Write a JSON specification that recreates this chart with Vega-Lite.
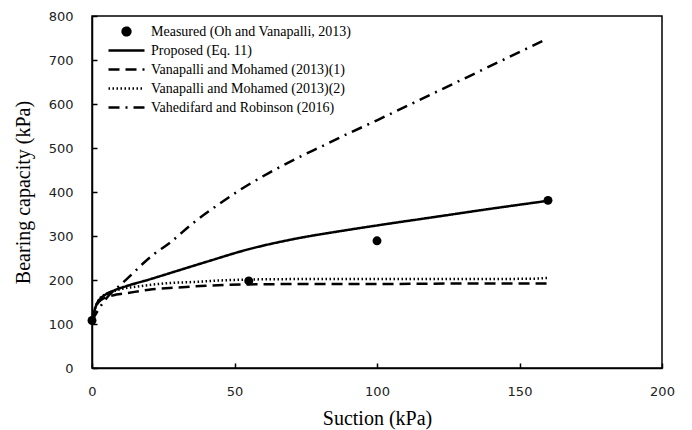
{
  "$schema": "https://vega.github.io/schema/vega-lite/v6.json",
  "width": 570,
  "height": 352,
  "autosize": {"type": "none"},
  "padding": {"left": 92, "top": 16, "right": 30, "bottom": 62},
  "background": "white",
  "config": {
    "view": {"stroke": "black", "strokeWidth": 1.5},
    "axis": {
      "domainColor": "black",
      "domainWidth": 1.5,
      "tickColor": "black",
      "tickWidth": 1.5,
      "tickSize": -5,
      "grid": false,
      "labelFont": "DejaVu Sans",
      "labelFontSize": 13,
      "labelColor": "#222",
      "labelFlush": false,
      "titleFont": "Liberation Serif",
      "titleFontSize": 20,
      "titleFontWeight": "normal",
      "titleColor": "black"
    }
  },
  "datasets": {
    "curves": [
      {"series": "Proposed (Eq. 11)", "suction": 0, "q": 108},
      {"series": "Proposed (Eq. 11)", "suction": 0.5, "q": 121},
      {"series": "Proposed (Eq. 11)", "suction": 1, "q": 133},
      {"series": "Proposed (Eq. 11)", "suction": 2, "q": 150},
      {"series": "Proposed (Eq. 11)", "suction": 3, "q": 158},
      {"series": "Proposed (Eq. 11)", "suction": 5, "q": 168},
      {"series": "Proposed (Eq. 11)", "suction": 8, "q": 177},
      {"series": "Proposed (Eq. 11)", "suction": 12, "q": 186},
      {"series": "Proposed (Eq. 11)", "suction": 20, "q": 201},
      {"series": "Proposed (Eq. 11)", "suction": 30, "q": 221},
      {"series": "Proposed (Eq. 11)", "suction": 40, "q": 241},
      {"series": "Proposed (Eq. 11)", "suction": 55, "q": 270},
      {"series": "Proposed (Eq. 11)", "suction": 70, "q": 292},
      {"series": "Proposed (Eq. 11)", "suction": 90, "q": 314},
      {"series": "Proposed (Eq. 11)", "suction": 100, "q": 324},
      {"series": "Proposed (Eq. 11)", "suction": 120, "q": 343},
      {"series": "Proposed (Eq. 11)", "suction": 140, "q": 362},
      {"series": "Proposed (Eq. 11)", "suction": 160, "q": 380},

      {"series": "Vanapalli and Mohamed (2013)(1)", "suction": 0, "q": 108},
      {"series": "Vanapalli and Mohamed (2013)(1)", "suction": 0.5, "q": 120},
      {"series": "Vanapalli and Mohamed (2013)(1)", "suction": 1, "q": 132},
      {"series": "Vanapalli and Mohamed (2013)(1)", "suction": 2, "q": 147},
      {"series": "Vanapalli and Mohamed (2013)(1)", "suction": 3, "q": 154},
      {"series": "Vanapalli and Mohamed (2013)(1)", "suction": 5, "q": 161},
      {"series": "Vanapalli and Mohamed (2013)(1)", "suction": 8, "q": 166},
      {"series": "Vanapalli and Mohamed (2013)(1)", "suction": 10, "q": 168},
      {"series": "Vanapalli and Mohamed (2013)(1)", "suction": 15, "q": 173},
      {"series": "Vanapalli and Mohamed (2013)(1)", "suction": 20, "q": 178},
      {"series": "Vanapalli and Mohamed (2013)(1)", "suction": 30, "q": 183},
      {"series": "Vanapalli and Mohamed (2013)(1)", "suction": 40, "q": 187},
      {"series": "Vanapalli and Mohamed (2013)(1)", "suction": 55, "q": 190},
      {"series": "Vanapalli and Mohamed (2013)(1)", "suction": 80, "q": 191},
      {"series": "Vanapalli and Mohamed (2013)(1)", "suction": 100, "q": 191},
      {"series": "Vanapalli and Mohamed (2013)(1)", "suction": 130, "q": 192},
      {"series": "Vanapalli and Mohamed (2013)(1)", "suction": 160, "q": 192},

      {"series": "Vanapalli and Mohamed (2013)(2)", "suction": 0, "q": 108},
      {"series": "Vanapalli and Mohamed (2013)(2)", "suction": 0.5, "q": 121},
      {"series": "Vanapalli and Mohamed (2013)(2)", "suction": 1, "q": 135},
      {"series": "Vanapalli and Mohamed (2013)(2)", "suction": 2, "q": 150},
      {"series": "Vanapalli and Mohamed (2013)(2)", "suction": 3, "q": 160},
      {"series": "Vanapalli and Mohamed (2013)(2)", "suction": 5, "q": 168},
      {"series": "Vanapalli and Mohamed (2013)(2)", "suction": 7, "q": 173},
      {"series": "Vanapalli and Mohamed (2013)(2)", "suction": 10, "q": 179},
      {"series": "Vanapalli and Mohamed (2013)(2)", "suction": 17, "q": 186},
      {"series": "Vanapalli and Mohamed (2013)(2)", "suction": 25, "q": 192},
      {"series": "Vanapalli and Mohamed (2013)(2)", "suction": 37, "q": 196},
      {"series": "Vanapalli and Mohamed (2013)(2)", "suction": 45, "q": 199},
      {"series": "Vanapalli and Mohamed (2013)(2)", "suction": 55, "q": 201},
      {"series": "Vanapalli and Mohamed (2013)(2)", "suction": 70, "q": 202},
      {"series": "Vanapalli and Mohamed (2013)(2)", "suction": 100, "q": 202},
      {"series": "Vanapalli and Mohamed (2013)(2)", "suction": 130, "q": 202},
      {"series": "Vanapalli and Mohamed (2013)(2)", "suction": 155, "q": 203},
      {"series": "Vanapalli and Mohamed (2013)(2)", "suction": 160, "q": 205},

      {"series": "Vahedifard and Robinson (2016)", "suction": 0, "q": 108},
      {"series": "Vahedifard and Robinson (2016)", "suction": 2, "q": 130},
      {"series": "Vahedifard and Robinson (2016)", "suction": 5, "q": 158},
      {"series": "Vahedifard and Robinson (2016)", "suction": 10, "q": 189},
      {"series": "Vahedifard and Robinson (2016)", "suction": 14, "q": 213},
      {"series": "Vahedifard and Robinson (2016)", "suction": 18, "q": 238},
      {"series": "Vahedifard and Robinson (2016)", "suction": 22, "q": 260},
      {"series": "Vahedifard and Robinson (2016)", "suction": 27, "q": 283},
      {"series": "Vahedifard and Robinson (2016)", "suction": 35, "q": 327},
      {"series": "Vahedifard and Robinson (2016)", "suction": 44, "q": 370},
      {"series": "Vahedifard and Robinson (2016)", "suction": 52, "q": 405},
      {"series": "Vahedifard and Robinson (2016)", "suction": 62, "q": 443},
      {"series": "Vahedifard and Robinson (2016)", "suction": 72, "q": 477},
      {"series": "Vahedifard and Robinson (2016)", "suction": 81, "q": 505},
      {"series": "Vahedifard and Robinson (2016)", "suction": 88, "q": 527},
      {"series": "Vahedifard and Robinson (2016)", "suction": 100, "q": 563},
      {"series": "Vahedifard and Robinson (2016)", "suction": 120, "q": 625},
      {"series": "Vahedifard and Robinson (2016)", "suction": 140, "q": 687},
      {"series": "Vahedifard and Robinson (2016)", "suction": 158, "q": 743}
    ],
    "measured": [
      {"series": "Measured (Oh and Vanapalli, 2013)", "suction": 0, "q": 108},
      {"series": "Measured (Oh and Vanapalli, 2013)", "suction": 55, "q": 198},
      {"series": "Measured (Oh and Vanapalli, 2013)", "suction": 100, "q": 289},
      {"series": "Measured (Oh and Vanapalli, 2013)", "suction": 160, "q": 381}
    ]
  },
  "layer": [
    {
      "data": {"name": "curves"},
      "mark": {"type": "line", "color": "black", "strokeWidth": 2.5, "interpolate": "monotone"},
      "encoding": {
        "x": {
          "field": "suction", "type": "quantitative",
          "scale": {"domain": [0, 200], "nice": false},
          "axis": {"values": [0, 50, 100, 150, 200], "title": "Suction (kPa)", "labelPadding": 22, "titlePadding": 10}
        },
        "y": {
          "field": "q", "type": "quantitative",
          "scale": {"domain": [0, 800], "nice": false},
          "axis": {"values": [0, 100, 200, 300, 400, 500, 600, 700, 800], "title": "Bearing capacity (kPa)", "labelPadding": 24, "titlePadding": 15}
        },
        "strokeDash": {
          "field": "series", "type": "nominal",
          "scale": {
            "domain": ["Measured (Oh and Vanapalli, 2013)", "Proposed (Eq. 11)", "Vanapalli and Mohamed (2013)(1)", "Vanapalli and Mohamed (2013)(2)", "Vahedifard and Robinson (2016)"],
            "range": [[1, 0], [1, 0], [11, 6], [1.5, 2.5], [11, 6, 2, 6]]
          },
          "legend": {
            "title": null,
            "orient": "none",
            "legendX": 15,
            "legendY": 6,
            "padding": 0,
            "symbolType": "stroke",
            "symbolSize": 1296,
            "symbolStrokeWidth": 2.5,
            "symbolStrokeColor": "black",
            "labelFont": "Liberation Serif",
            "labelFontSize": 14,
            "labelColor": "black",
            "labelOffset": 5,
            "clipHeight": 19,
            "rowPadding": 0,
            "labelLimit": 400,
            "encode": {
              "symbols": {
                "update": {
                  "shape": {"signal": "datum.value === 'Measured (Oh and Vanapalli, 2013)' ? 'circle' : 'stroke'"},
                  "size": {"signal": "datum.value === 'Measured (Oh and Vanapalli, 2013)' ? 60 : 1296"},
                  "fill": {"signal": "datum.value === 'Measured (Oh and Vanapalli, 2013)' ? 'black' : 'transparent'"},
                  "stroke": {"value": "black"}
                }
              }
            }
          }
        }
      }
    },
    {
      "data": {"name": "measured"},
      "mark": {"type": "point", "filled": true, "color": "black", "size": 80, "opacity": 1},
      "encoding": {
        "x": {"field": "suction", "type": "quantitative"},
        "y": {"field": "q", "type": "quantitative"}
      }
    }
  ]
}
